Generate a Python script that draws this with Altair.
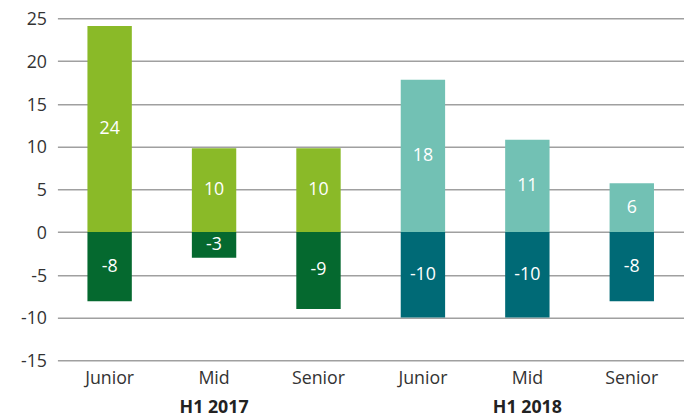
import altair as alt
import pandas as pd

periods = ["H1 2017", "H1 2017", "H1 2017", "H1 2018", "H1 2018", "H1 2018"]
levels = ["Junior", "Mid", "Senior", "Junior", "Mid", "Senior"]
positive = [24.1, 9.8, 9.8, 17.8, 10.8, 5.7]
negative = [-8.1, -3.0, -9.0, -10.0, -10.0, -8.1]
pos_labels = ["24", "10", "10", "18", "11", "6"]
neg_labels = ["-8", "-3", "-9", "-10", "-10", "-8"]
group_names = ["H1 2017", "H1 2018"]
y_ticks = [-15, -10, -5, 0, 5, 10, 15, 20, 25]

keys = [p + "|" + l for p, l in zip(periods, levels)]

rows = []
for k, p, pv, nv, pl, nl in zip(keys, periods, positive, negative, pos_labels, neg_labels):
    yr = p[-4:]
    rows.append({"key": k, "value": pv, "mid": pv / 2, "label": pl, "kind": "pos" + yr})
    rows.append({"key": k, "value": nv, "mid": nv / 2, "label": nl, "kind": "neg" + yr})
df = pd.DataFrame(rows)

groups = pd.DataFrame({"key": [g + "|Mid" for g in group_names], "label": group_names})

W, H = 634, 346

x = alt.X(
    "key:N",
    sort=keys,
    scale=alt.Scale(domain=keys, paddingInner=0.575, paddingOuter=0.2875),
    axis=alt.Axis(
        title=None,
        domain=False,
        ticks=False,
        grid=False,
        labelAngle=0,
        labelExpr="split(datum.label, '|')[1]",
        labelFontSize=18,
        labelColor="#333333",
        labelPadding=10,
    ),
)

bars = alt.Chart(df).mark_bar().encode(
    x=x,
    y=alt.Y(
        "value:Q",
        scale=alt.Scale(domain=[-15, 25], nice=False, zero=False),
        axis=alt.Axis(
            title=None,
            values=y_ticks,
            domain=False,
            ticks=False,
            grid=True,
            gridColor="#a0a0a0",
            gridWidth=1.5,
            labelFontSize=18,
            labelColor="#333333",
            labelPadding=11,
            labelBaseline="alphabetic",
            labelOffset=6.5,
            labelExpr="datum.value < 0 ? '-' + abs(datum.value) : '' + datum.value",
        ),
    ),
    color=alt.Color(
        "kind:N",
        scale=alt.Scale(
            domain=["pos2017", "neg2017", "pos2018", "neg2018"],
            range=["#8aba28", "#05692f", "#72c1b4", "#006a76"],
        ),
        legend=None,
    ),
)

texts = alt.Chart(df).mark_text(fontSize=18, color="white", baseline="middle").encode(
    x=alt.X("key:N", sort=keys),
    y=alt.Y("mid:Q"),
    text="label:N",
)

glabels = alt.Chart(groups).mark_text(
    fontSize=18, fontWeight="bold", color="#222222", baseline="alphabetic"
).encode(
    x=alt.X("key:N", sort=keys),
    y=alt.value(H + 53),
    text="label:N",
)

chart = (
    alt.layer(bars, texts, glabels)
    .properties(
        width=W,
        height=H,
        autosize=alt.AutoSizeParams(type="none"),
        padding={"left": 50, "top": 8, "right": 0, "bottom": 56},
    )
    .configure(font="Open Sans")
    .configure_view(stroke=None)
)

chart.save("out.html", embed_options={"renderer": "svg", "actions": False})
